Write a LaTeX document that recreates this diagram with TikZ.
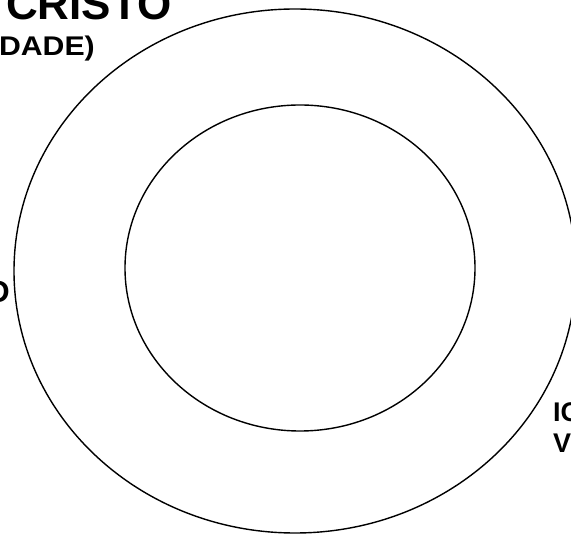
\documentclass[tikz,border=0pt]{standalone}
\usepackage{fontspec}
\setmainfont{Liberation Sans}
\usetikzlibrary{positioning}

\begin{document}
\begin{tikzpicture}[x=1pt, y=-1pt,
    ring/.style={line width=1.4pt, black},
    rotulo/.style={font=\bfseries, inner sep=0pt}]
    % area visivel
    \clip (0,0) rectangle (571,534);

    % circulos
    \draw[ring] (295,271) ellipse [x radius=281, y radius=262];
    \draw[ring] (300,268) ellipse [x radius=175, y radius=163];

    % textos cortados nas bordas
    \node[rotulo, anchor=base west, font=\fontsize{44}{50}\bfseries] (cristo) at (6,20) {CRISTO};
    \node[rotulo, anchor=base east, xscale=1.12, font=\fontsize{27}{32}\bfseries] (dade) at (95,56) {DADE)};
    \node[rotulo, anchor=base east, font=\fontsize{31}{36}\bfseries] (esq) at (10,303) {D};
    \node[rotulo, anchor=base west, font=\fontsize{27}{31}\bfseries] (ig) at (553,422) {IG};
    \node[rotulo, anchor=base west, font=\fontsize{27}{31}\bfseries] (v) at (553,453) {V};
\end{tikzpicture}
\end{document}
